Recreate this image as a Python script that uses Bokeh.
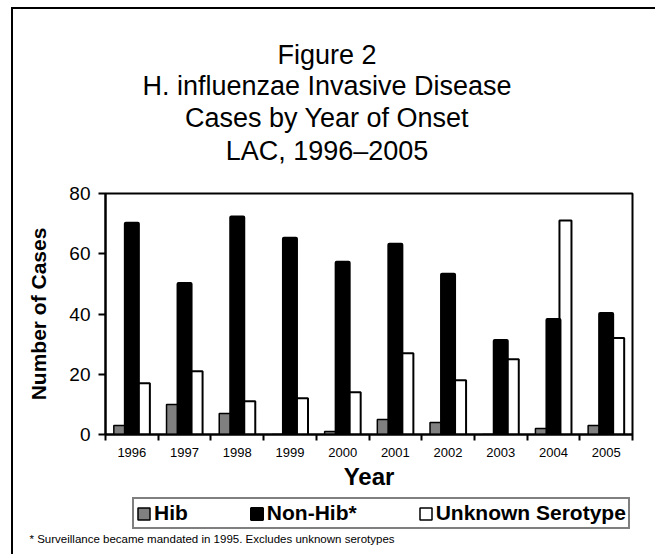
from bokeh.plotting import figure
from bokeh.layouts import column
from bokeh.models import (ColumnDataSource, FixedTicker, Legend, LegendItem,
                          Range1d, Title)
from bokeh.core.properties import value
from bokeh.transform import dodge
from bokeh.embed import file_html
from bokeh.resources import INLINE

# ---- data ----
years = ["1996", "1997", "1998", "1999", "2000", "2001", "2002", "2003", "2004", "2005"]
hib = [3, 10, 7, 0, 1, 5, 4, 0, 2, 3]
non_hib = [70, 50, 72, 65, 57, 63, 53, 31, 38, 40]
unknown = [17, 21, 11, 12, 14, 27, 18, 25, 71, 32]
y_ticks = [0, 20, 40, 60, 80]
series_names = ["Hib", "Non-Hib*", "Unknown Serotype"]
series_fill = ["#808080", "black", "white"]
title_lines = ["Figure 2", "H. influenzae Invasive Disease",
               "Cases by Year of Onset", "LAC, 1996\u20132005"]
footnote = "*  Surveillance became mandated in 1995. Excludes unknown serotypes"

FONT = "Liberation Sans"
W = 644
HA, HB, HC = 166, 317, 64
FL, FR = 92, 619          # frame left / right inside each canvas (aligned)


def blank(h, bottom=0):
    f = figure(width=W, height=h, x_range=Range1d(FL, FR), y_range=Range1d(0, h - bottom),
               output_backend="svg", toolbar_location=None,
               x_axis_type=None, y_axis_type=None,
               min_border_left=FL, min_border_right=W - FR, min_border_top=0,
               min_border_bottom=bottom, background_fill_color="white",
               border_fill_color="white")
    f.outline_line_color = None
    f.xgrid.visible = False
    f.ygrid.visible = False
    return f


# ---- title block ----
pA = blank(HA)
title_src = ColumnDataSource(dict(x=[313.5] * 4, y=[121, 90, 58, 25], t=title_lines))
pA.text(x="x", y="y", text="t", source=title_src, text_align="center",
        text_baseline="alphabetic", text_font=value(FONT),
        text_font_size="27px", text_color="black")

# ---- chart ----
pos = list(range(1, len(years) + 1))
bw = 0.228
src = ColumnDataSource(dict(pos=pos, hib=hib, non_hib=non_hib, unknown=unknown))

pB = figure(width=W, height=HB,
            x_range=Range1d(0.5, len(years) + 0.5), y_range=Range1d(0, 80),
            output_backend="svg", toolbar_location=None,
            min_border_left=FL, min_border_right=W - FR,
            min_border_top=18, min_border_bottom=58,
            background_fill_color="white", border_fill_color="white")

pB.vbar(x=dodge("pos", bw), top="unknown", width=bw, source=src,
        fill_color=series_fill[2], line_color="black", line_width=2)
pB.vbar(x=dodge("pos", -bw), top="hib", width=bw, source=src,
        fill_color=series_fill[0], line_color="black", line_width=1.5)
pB.vbar(x="pos", top="non_hib", width=bw, source=src,
        fill_color=series_fill[1], line_color="black", line_width=4,
        line_join="round")

pB.xgrid.visible = False
pB.ygrid.visible = False
pB.outline_line_color = "black"
pB.outline_line_width = 2

xa = pB.xaxis[0]
xa.ticker = FixedTicker(ticks=pos, minor_ticks=[i + 0.5 for i in range(len(years) + 1)])
xa.major_label_overrides = {i: y for i, y in zip(pos, years)}
xa.major_tick_line_color = None
xa.minor_tick_in = 0
xa.minor_tick_out = 6
xa.minor_tick_line_color = "black"
xa.minor_tick_line_width = 2
xa.axis_line_color = "black"
xa.axis_line_width = 2
xa.major_label_text_font = FONT
xa.major_label_text_font_size = "13px"
xa.major_label_text_color = "black"
xa.major_label_standoff = 7
xa.axis_label = "Year"
xa.axis_label_text_font = FONT
xa.axis_label_text_font_size = "24px"
xa.axis_label_text_font_style = "bold"
xa.axis_label_text_color = "black"
xa.axis_label_standoff = 3

ya = pB.yaxis[0]
ya.ticker = FixedTicker(ticks=y_ticks)
ya.minor_tick_line_color = None
ya.major_tick_in = 0
ya.major_tick_out = 7
ya.major_tick_line_color = "black"
ya.major_tick_line_width = 2
ya.axis_line_color = "black"
ya.axis_line_width = 2
ya.major_label_text_font = FONT
ya.major_label_text_font_size = "19px"
ya.major_label_text_color = "black"
ya.major_label_standoff = 8
ya.axis_label = "Number of Cases"
ya.axis_label_text_font = FONT
ya.axis_label_text_font_size = "21px"
ya.axis_label_text_font_style = "bold"
ya.axis_label_text_color = "black"
ya.axis_label_standoff = 16

# ---- legend + footnote ----
pC = blank(HC, bottom=26)
lw = [1.5, 2, 1.5]
items = []
for name, fc, w in zip(series_names, series_fill, lw):
    r = pC.vbar(x="pos", top="hib", width=bw, source=src, fill_color=fc,
                line_color="black", line_width=w, visible=False)
    items.append(LegendItem(label=name, renderers=[r], index=0))
legend = Legend(items=items, orientation="horizontal", location=(27, 1),
                glyph_width=15, glyph_height=15, label_standoff=3,
                spacing=61, padding=2, margin=0, label_height=16,
                border_line_color="black", border_line_width=2,
                background_fill_color="white", background_fill_alpha=1,
                inactive_fill_alpha=0,
                label_text_font=FONT, label_text_font_size="21px",
                label_text_font_style="bold", label_text_color="black")
pC.add_layout(legend, "center")
pC.add_layout(Title(text=footnote, align="left", offset=-76, standoff=0,
                    text_font=FONT, text_font_size="11.5px",
                    text_font_style="normal", text_color="black"), "below")

layout = column(pA, pB, pC, spacing=0)
layout.styles = {"margin-left": "13px", "margin-top": "9px",
                 "box-shadow": "-2px -2px 0px 0px black"}

open("out.html", "w").write(file_html(layout, INLINE))
